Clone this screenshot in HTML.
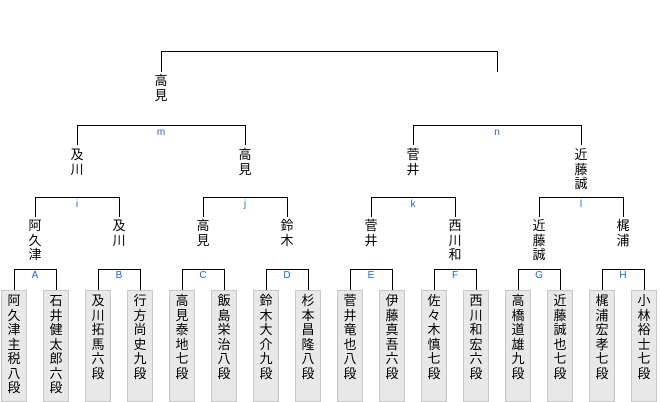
<!DOCTYPE html>
<html><head><meta charset="utf-8"><style>
body{margin:0;width:660px;height:400px;background:#fff;position:relative;overflow:hidden;font-family:"Liberation Sans","Noto Sans CJK JP",sans-serif;}
.t{position:absolute;width:16px;font-size:13px;line-height:14.5px;text-align:center;word-break:break-all;line-break:anywhere;color:#000;}
.b{position:absolute;top:290px;width:26px;height:112px;background:#e8e8e8;box-sizing:border-box;border:1px solid #c8c8c8;}
.b .t{left:4px;top:3px;}
.l{position:absolute;font-size:10px;color:#1a66dd;width:20px;text-align:center;}
svg{position:absolute;left:0;top:0;}
</style></head><body>
<svg width="660" height="400" fill="none" stroke="#000" stroke-width="1">
<path d="M161.5 72V51.5H497.5V72"/>
<path d="M77.5 145V125.5H245.5V145"/>
<path d="M413.5 145V125.5H581.5V145"/>
<path d="M35.5 217V197.5H119.5V217"/>
<path d="M203.5 217V197.5H287.5V217"/>
<path d="M371.5 217V197.5H455.5V217"/>
<path d="M539.5 217V197.5H623.5V217"/>
<path d="M14.5 290V269.5H56.5V290"/>
<path d="M98.5 290V269.5H140.5V290"/>
<path d="M182.5 290V269.5H224.5V290"/>
<path d="M266.5 290V269.5H308.5V290"/>
<path d="M350.5 290V269.5H392.5V290"/>
<path d="M434.5 290V269.5H476.5V290"/>
<path d="M518.5 290V269.5H560.5V290"/>
<path d="M602.5 290V269.5H644.5V290"/>
</svg>
<div class="t" style="left:153px;top:74px">高見</div>
<div class="t" style="left:69px;top:148px">及川</div>
<div class="t" style="left:237px;top:148px">高見</div>
<div class="t" style="left:405px;top:148px">菅井</div>
<div class="t" style="left:573px;top:148px">近藤誠</div>
<div class="t" style="left:27px;top:219px">阿久津</div>
<div class="t" style="left:111px;top:219px">及川</div>
<div class="t" style="left:195px;top:219px">高見</div>
<div class="t" style="left:279px;top:219px">鈴木</div>
<div class="t" style="left:363px;top:219px">菅井</div>
<div class="t" style="left:447px;top:219px">西川和</div>
<div class="t" style="left:531px;top:219px">近藤誠</div>
<div class="t" style="left:615px;top:219px">梶浦</div>
<div class="l" style="left:151px;top:127px">m</div>
<div class="l" style="left:487px;top:127px">n</div>
<div class="l" style="left:67px;top:199px">i</div>
<div class="l" style="left:235px;top:199px">j</div>
<div class="l" style="left:403px;top:199px">k</div>
<div class="l" style="left:571px;top:199px">l</div>
<div class="l" style="left:25px;top:270px">A</div>
<div class="l" style="left:109px;top:270px">B</div>
<div class="l" style="left:193px;top:270px">C</div>
<div class="l" style="left:277px;top:270px">D</div>
<div class="l" style="left:361px;top:270px">E</div>
<div class="l" style="left:445px;top:270px">F</div>
<div class="l" style="left:529px;top:270px">G</div>
<div class="l" style="left:613px;top:270px">H</div>
<div class="b" style="left:1px"><div class="t">阿久津主税八段</div></div>
<div class="b" style="left:43px"><div class="t">石井健太郎六段</div></div>
<div class="b" style="left:85px"><div class="t">及川拓馬六段</div></div>
<div class="b" style="left:127px"><div class="t">行方尚史九段</div></div>
<div class="b" style="left:169px"><div class="t">高見泰地七段</div></div>
<div class="b" style="left:211px"><div class="t">飯島栄治八段</div></div>
<div class="b" style="left:253px"><div class="t">鈴木大介九段</div></div>
<div class="b" style="left:295px"><div class="t">杉本昌隆八段</div></div>
<div class="b" style="left:337px"><div class="t">菅井竜也八段</div></div>
<div class="b" style="left:379px"><div class="t">伊藤真吾六段</div></div>
<div class="b" style="left:421px"><div class="t">佐<br>々<br>木<br>慎<br>七<br>段</div></div>
<div class="b" style="left:463px"><div class="t">西川和宏六段</div></div>
<div class="b" style="left:505px"><div class="t">高橋道雄九段</div></div>
<div class="b" style="left:547px"><div class="t">近藤誠也七段</div></div>
<div class="b" style="left:589px"><div class="t">梶浦宏孝七段</div></div>
<div class="b" style="left:631px"><div class="t">小林裕士七段</div></div>
</body></html>
